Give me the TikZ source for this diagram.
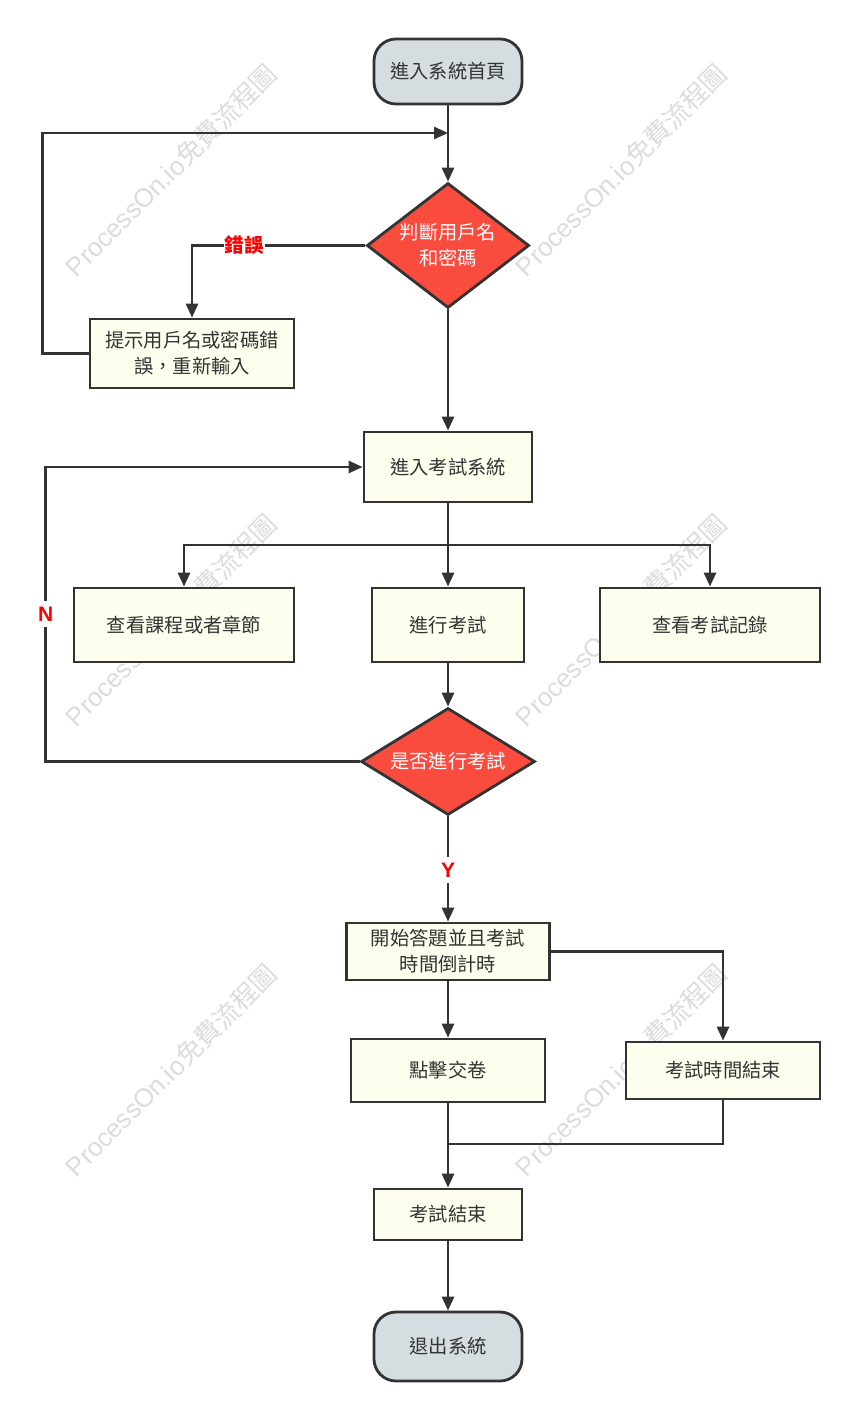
\documentclass[tikz,border=0pt]{standalone}
\usepackage{fontspec}
\setmainfont{Noto Sans CJK TC}
\newfontfamily\wmlatin{Liberation Sans}
\newfontfamily\lblfont{Liberation Sans}
\usetikzlibrary{arrows.meta,shapes.geometric}
\definecolor{lineC}{HTML}{333333}
\definecolor{termC}{HTML}{D5DDE0}
\definecolor{boxC}{HTML}{FEFEEE}
\definecolor{decC}{HTML}{F94B3E}
\definecolor{wmC}{HTML}{DCDCDC}
\definecolor{lblC}{HTML}{FF0000}
\tikzset{
  base/.style={draw=lineC, line width=2.8pt, text=lineC, inner sep=0pt, align=center,
    font=\fontsize{19.3}{26}\selectfont},
  term/.style={base, fill=termC, rectangle, rounded corners=22pt},
  proc/.style={base, fill=boxC, rectangle},
  dec/.style={base, fill=decC, diamond, aspect=1.5, text=white},
  arr/.style={draw=lineC, line width=2.8pt, -{Triangle[length=14pt,width=12pt]}},
  ln/.style={draw=lineC, line width=2.8pt},
  lbl/.style={fill=white, text=lblC, inner sep=1pt, font=\fontsize{19.5}{20}\selectfont\bfseries},
  yn/.style={fill=white, text=lblC, inner xsep=1pt, inner ysep=6pt, font=\lblfont\fontsize{21}{22}\selectfont\bfseries},
  wm/.style={text=wmC, rotate=45, inner sep=0pt, font=\fontsize{26}{26}\selectfont},
}
\begin{document}
\begin{tikzpicture}[x=1pt,y=-1pt]
\useasboundingbox (0,0) rectangle (858,1419);
\fill[white] (0,0) rectangle (858,1419);
% watermarks
\foreach \wx in {171,621}{
  \foreach \wy in {170,620,1070}{
    \node[wm] (wm-\wx-\wy) at (\wx,\wy) {{\wmlatin ProcessOn.io}免費流程圖};
  }
}
% nodes
\node[term, minimum width=148pt, minimum height=65pt] (start) at (448,71.5) {進入系統首頁};
\node[dec, minimum width=154pt, minimum height=125pt] (d1) at (448,245.5) {判斷用戶名\\和密碼};
\node[proc, minimum width=204pt, minimum height=69pt] (err) at (192,353.5) {提示用戶名或密碼錯\\誤，重新輸入};
\node[proc, minimum width=168pt, minimum height=70pt] (exam) at (448,467) {進入考試系統};
\node[proc, minimum width=220pt, minimum height=74pt] (c1) at (184,625) {查看課程或者章節};
\node[proc, minimum width=152pt, minimum height=74pt] (c2) at (448,625) {進行考試};
\node[proc, minimum width=220pt, minimum height=74pt] (c3) at (710,625) {查看考試記錄};
\node[dec, minimum width=174pt, minimum height=107pt] (d2) at (448,761.5) {是否進行考試};
\node[proc, minimum width=203pt, minimum height=57pt] (s2) at (448,951.5) {開始答題並且考試\\時間倒計時};
\node[proc, minimum width=194pt, minimum height=63pt] (sub) at (448,1070.5) {點擊交卷};
\node[proc, minimum width=194pt, minimum height=57pt] (tend) at (723,1070.5) {考試時間結束};
\node[proc, minimum width=148pt, minimum height=51pt] (end) at (448,1214.5) {考試結束};
\node[term, minimum width=148pt, minimum height=69pt] (exit) at (448,1346.5) {退出系統};
% junction coordinates
\coordinate (j1) at (448,133);
\coordinate (b1) at (448,545);
\coordinate (m1) at (448,1144);
% connectors
\draw[arr] (start.south) -- (d1.north);
\draw[arr] (err.west) -- ++(-46,0) |- (j1);
\draw[arr] (d1.west) -| node[lbl, pos=0.35] (lerr) {錯誤} (err.north);
\draw[arr] (d1.south) -- (exam.north);
\draw[ln] (exam.south) -- (b1);
\draw[arr] (b1) -- (c2.north);
\draw[arr] (b1) -| (c1.north);
\draw[arr] (b1) -| (c3.north);
\draw[arr] (c2.south) -- (d2.north);
\draw[arr] (d2.west) -- ++(-314,0) |- node[yn, pos=0.25] (ln) {N} (exam.west);
\draw[arr] (d2.south) -- node[yn, pos=0.51] (ly) {Y} (s2.north);
\draw[arr] (s2.east) -| (tend.north);
\draw[arr] (s2.south) -- (sub.north);
\draw[arr] (sub.south) -- (end.north);
\draw[ln] (tend.south) |- (m1);
\draw[arr] (end.south) -- (exit.north);
\end{tikzpicture}
\end{document}
